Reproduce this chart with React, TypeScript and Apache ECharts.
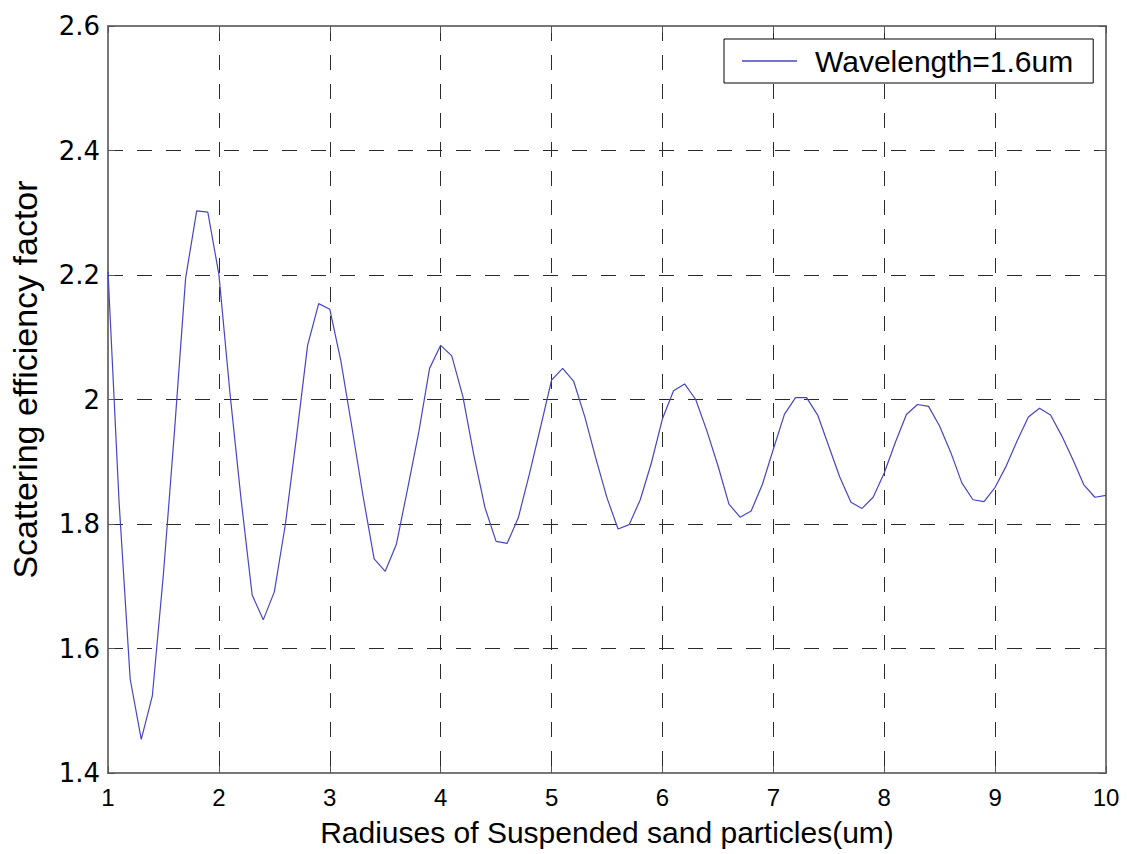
import React, { useEffect, useRef } from "react";
import * as echarts from "echarts";

const radii = [
  1.0, 1.1, 1.2, 1.3, 1.4, 1.5, 1.6, 1.7, 1.8, 1.9,
  2.0, 2.1, 2.2, 2.3, 2.4, 2.5, 2.6, 2.7, 2.8, 2.9,
  3.0, 3.1, 3.2, 3.3, 3.4, 3.5, 3.6, 3.7, 3.8, 3.9,
  4.0, 4.1, 4.2, 4.3, 4.4, 4.5, 4.6, 4.7, 4.8, 4.9,
  5.0, 5.1, 5.2, 5.3, 5.4, 5.5, 5.6, 5.7, 5.8, 5.9,
  6.0, 6.1, 6.2, 6.3, 6.4, 6.5, 6.6, 6.7, 6.8, 6.9,
  7.0, 7.1, 7.2, 7.3, 7.4, 7.5, 7.6, 7.7, 7.8, 7.9,
  8.0, 8.1, 8.2, 8.3, 8.4, 8.5, 8.6, 8.7, 8.8, 8.9,
  9.0, 9.1, 9.2, 9.3, 9.4, 9.5, 9.6, 9.7, 9.8, 9.9,
  10.0,
];

const efficiency = [
  2.205, 1.835, 1.551, 1.454, 1.524, 1.72, 1.95, 2.195, 2.303, 2.301,
  2.201, 2.01, 1.84, 1.686, 1.646, 1.691, 1.8, 1.94, 2.087, 2.154,
  2.145, 2.062, 1.955, 1.845, 1.744, 1.724, 1.767, 1.855, 1.945, 2.05,
  2.087, 2.07, 2.005, 1.91, 1.826, 1.772, 1.769, 1.81, 1.88, 1.955,
  2.031, 2.05, 2.029, 1.972, 1.905, 1.842, 1.792, 1.799, 1.839, 1.898,
  1.969, 2.014, 2.025, 2.0, 1.95, 1.894, 1.832, 1.811, 1.821, 1.863,
  1.92, 1.976, 2.003, 2.003, 1.975, 1.925, 1.875, 1.835, 1.825, 1.843,
  1.882, 1.931, 1.976, 1.992, 1.989, 1.957, 1.915, 1.866, 1.839, 1.836,
  1.859, 1.893, 1.934, 1.972, 1.986, 1.975, 1.942, 1.904, 1.863, 1.843,
  1.846,
];

const seriesName = "Wavelength=1.6um";
const xAxisName = "Radiuses of Suspended sand particles(um)";
const yAxisName = "Scattering efficiency factor";
const xRange = [1, 10];
const yRange = [1.4, 2.6];

const FONT = "'Liberation Sans', Arial, Helvetica, sans-serif";
const WIDE_FONT = "'DejaVu Sans', 'Liberation Sans', sans-serif";
const AXIS_COLOR = "#777777";
const GRID_COLOR = "#2a2a2a";
const LINE_COLOR = "#4646c4";

export default function App() {
  const ref = useRef<HTMLDivElement>(null);

  useEffect(() => {
    if (!ref.current) return;
    const chart = echarts.init(ref.current, undefined, { renderer: "svg" });
    const data = radii.map((r, i) => [r, efficiency[i]]);

    const axisLine = { show: true, onZero: false, lineStyle: { color: AXIS_COLOR, width: 2 } };
    const axisTick = { show: true, inside: true, length: 7, lineStyle: { color: "#555", width: 1 } };
    const splitLine = { show: true, lineStyle: { type: [15, 14], color: GRID_COLOR, width: 1 } };

    chart.setOption({
      animation: false,
      backgroundColor: "#ffffff",
      textStyle: { fontFamily: FONT },
      grid: { left: 103, top: 26, right: 21, bottom: 81, containLabel: false },
      legend: {
        show: true,
        left: 724,
        top: 39,
        orient: "horizontal",
        padding: [7, 20, 7, 18],
        itemWidth: 55,
        itemHeight: 1.5,
        icon: "rect",
        backgroundColor: "#ffffff",
        borderColor: "#000000",
        borderWidth: 1,
        borderRadius: 0,
        textStyle: { fontSize: 30, color: "#000", fontFamily: FONT, padding: [0, 0, 0, 13] },
        data: [{ name: seriesName, icon: "rect" }],
      },
      xAxis: [
        {
          type: "value",
          position: "bottom",
          min: xRange[0],
          max: xRange[1],
          interval: 1,
          name: xAxisName,
          nameLocation: "middle",
          nameGap: 44,
          nameTextStyle: { fontSize: 30, color: "#000", fontFamily: FONT },
          axisLine,
          axisTick,
          axisLabel: { fontSize: 24, color: "#000", margin: 12, fontFamily: FONT },
          splitLine,
        },
        {
          type: "value",
          position: "top",
          min: xRange[0],
          max: xRange[1],
          interval: 1,
          axisLine,
          axisTick,
          axisLabel: { show: false },
          splitLine: { show: false },
        },
      ],
      yAxis: [
        {
          type: "value",
          position: "left",
          min: yRange[0],
          max: yRange[1],
          interval: 0.2,
          name: yAxisName,
          nameLocation: "middle",
          nameGap: 66,
          nameTextStyle: { fontSize: 34, color: "#000", fontFamily: FONT, padding: [0, 0, 0, 40] },
          axisLine,
          axisTick,
          axisLabel: {
            fontSize: 26,
            color: "#000",
            margin: 8,
            fontFamily: WIDE_FONT,
            formatter: (v: number) => String(Number(v.toFixed(1))),
          },
          splitLine,
        },
        {
          type: "value",
          position: "right",
          min: yRange[0],
          max: yRange[1],
          interval: 0.2,
          axisLine,
          axisTick,
          axisLabel: { show: false },
          splitLine: { show: false },
        },
      ],
      series: [
        {
          type: "line",
          name: seriesName,
          data,
          xAxisIndex: 0,
          yAxisIndex: 0,
          symbol: "none",
          showSymbol: false,
          smooth: false,
          lineStyle: { color: LINE_COLOR, width: 1.2 },
          itemStyle: { color: LINE_COLOR },
          z: 3,
        },
      ],
    });

    return () => {
      chart.dispose();
    };
  }, []);

  return (
    <div
      ref={ref}
      style={{ position: "absolute", left: 0, top: 0, width: 1127, height: 854, background: "#fff" }}
    />
  );
}
